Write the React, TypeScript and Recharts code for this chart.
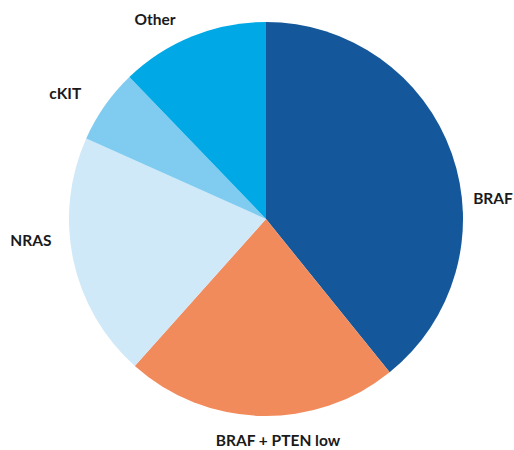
import React from 'react';
import { PieChart, Pie, Cell } from 'recharts';

const categories = ['BRAF', 'BRAF + PTEN low', 'NRAS', 'cKIT', 'Other'];
const shares = [39.2, 22.4, 20.1, 6.1, 12.2];
const colors = ['#14579a', '#f28b5c', '#d0e9f8', '#80ccf1', '#00a9e6'];

// label placement around the pie (degrees counter-clockwise from 3 o'clock, px from centre)
const labelAngles = [5.3, 273.1, 185.1, 147.9, 119];
const labelDistances = [228, 221, 236, 237, 229];

const data = categories.map((name, i) => ({ name, value: shares[i] }));

const RADIAN = Math.PI / 180;

const renderLabel = (props: any) => {
  const { cx, cy, index } = props;
  const a = labelAngles[index] * RADIAN;
  const r = labelDistances[index];
  const x = cx + r * Math.cos(a);
  const y = cy - r * Math.sin(a);
  return (
    <text
      x={x}
      y={y}
      textAnchor="middle"
      dominantBaseline="central"
      fill="#1a1a1a"
      fontFamily="Lato, sans-serif"
      fontWeight={700}
      fontSize={15.5}
    >
      {categories[index]}
    </text>
  );
};

const App: React.FC = () => {
  return (
    <div style={{ position: 'absolute', left: 0, top: 0, background: '#fff' }}>
      <PieChart width={514} height={450} margin={{ top: 0, right: 0, bottom: 0, left: 0 }}>
        <Pie
          data={data}
          dataKey="value"
          nameKey="name"
          cx={266}
          cy={219}
          outerRadius={197}
          startAngle={90}
          endAngle={-270}
          stroke="none"
          label={renderLabel}
          labelLine={false}
          isAnimationActive={false}
        >
          {data.map((d, i) => (
            <Cell key={d.name} fill={colors[i]} />
          ))}
        </Pie>
      </PieChart>
    </div>
  );
};

export default App;
